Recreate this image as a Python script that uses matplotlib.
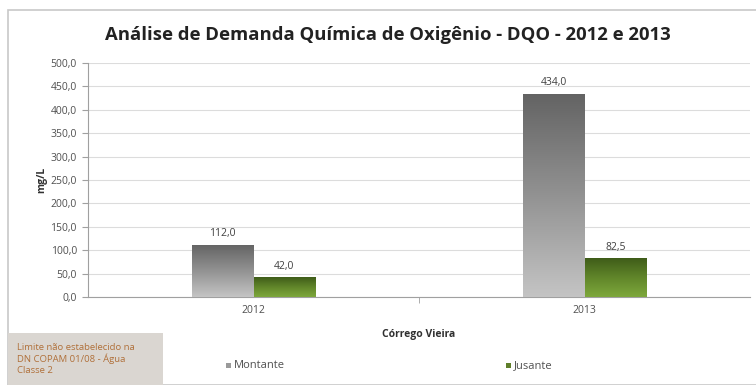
import numpy as np
import matplotlib
matplotlib.use("Agg")
import matplotlib.pyplot as plt
from matplotlib.patches import Rectangle
from matplotlib.colors import LinearSegmentedColormap

categories = ["2012", "2013"]
montante = [112.0, 434.0]
jusante = [42.0, 82.5]
series_names = ["Montante", "Jusante"]
yticks = [0, 50, 100, 150, 200, 250, 300, 350, 400, 450, 500]

plt.rcParams['font.family'] = ['Open Sans', 'DejaVu Sans']

fig = plt.figure(figsize=(7.56, 3.85), dpi=100)
fig.patch.set_facecolor("white")

# outer chart frame
fig.patches.append(Rectangle((8/756, 0), 1.2, 1 - 10/385, transform=fig.transFigure,
                             fill=False, edgecolor="#c8c8c8", linewidth=1.2))

ax = fig.add_axes([88/756, 1 - 297/385, (750 - 88)/756, (297 - 63)/385])
ax.set_xlim(-0.5, 1.5)
ax.set_ylim(0, 500)

x = np.arange(len(categories))
w = 0.187
off = 0.0935

grey_cmap = LinearSegmentedColormap.from_list("g", ["#c4c4c4", "#929292", "#636363"])
green_cmap = LinearSegmentedColormap.from_list("v", ["#7ea83c", "#61862a", "#3f5c19"])

def gradient_bars(xs, vals, cmap):
    bars = ax.bar(xs, vals, width=w, color="none", edgecolor="none", zorder=3)
    grad = np.linspace(0, 1, 256).reshape(-1, 1)
    for b in bars:
        x0, y0 = b.get_x(), b.get_y()
        x1, y1 = x0 + b.get_width(), y0 + b.get_height()
        im = ax.imshow(grad, cmap=cmap, aspect="auto", origin="lower",
                       extent=(x0, x1, y0, y1), zorder=3)
        im.set_clip_path(b)
    return bars

b1 = gradient_bars(x - off, montante, grey_cmap)
b2 = gradient_bars(x + off, jusante, green_cmap)
ax.set_xlim(-0.5, 1.5)
ax.set_ylim(0, 500)

for xs, vals in ((x - off, montante), (x + off, jusante)):
    for xi, v in zip(xs, vals):
        ax.text(xi, v + 12, f"{v:.1f}".replace(".", ","), ha="center", va="bottom",
                fontsize=7.5, color="#404040")

ax.set_yticks(yticks)
ax.set_yticklabels([f"{t:.1f}".replace(".", ",") for t in yticks], fontsize=7.5, color="#505050")
ax.set_xticks(x)
ax.set_xticklabels(categories, fontsize=7.5, color="#505050")
ax.set_xticks([0.5], minor=True)
ax.tick_params(axis="x", which="major", length=0, pad=6)
ax.tick_params(axis="x", which="minor", length=4, color="#a0a0a0")
ax.tick_params(axis="y", length=4, color="#a0a0a0", pad=4)
ax.yaxis.grid(True, color="#dcdcdc", linewidth=0.8)
ax.set_axisbelow(True)
for s in ("top", "right"):
    ax.spines[s].set_visible(False)
ax.spines["left"].set_color("#a0a0a0")
ax.spines["bottom"].set_color("#a0a0a0")

ax.set_ylabel("mg/L", fontsize=7.5, fontweight="bold", color="#303030", labelpad=2)
ax.set_xlabel("Córrego Vieira", fontsize=7.5, fontweight="bold", color="#303030", labelpad=9)

fig.text(388/756, 1 - 35/385, "Análise de Demanda Química de Oxigênio - DQO - 2012 e 2013",
         ha="center", va="center", fontsize=13.3, fontweight="bold", color="#222222")

# legend
fig.patches.append(Rectangle((226/756, 1 - 368/385), 5/756, 5/385, transform=fig.transFigure,
                             facecolor="#9a9a9a", edgecolor="none"))
fig.text(234/756, 1 - 366/385, series_names[0], fontsize=8, color="#505050", va="center")
fig.patches.append(Rectangle((506/756, 1 - 368/385), 5/756, 5/385, transform=fig.transFigure,
                             facecolor="#5f7f2a", edgecolor="none"))
fig.text(514/756, 1 - 366/385, series_names[1], fontsize=8, color="#505050", va="center")

# note box
fig.patches.append(Rectangle((8/756, 0), (163 - 8)/756, (385 - 333)/385, transform=fig.transFigure,
                             facecolor="#dad6d1", edgecolor="none"))
fig.text(17/756, 1 - 359/385, "Limite não estabelecido na\nDN COPAM 01/08 - Água\nClasse 2",
         fontsize=6.8, color="#b0703a", va="center", ha="left", linespacing=1.25)

fig.savefig("out.png", dpi=100)
